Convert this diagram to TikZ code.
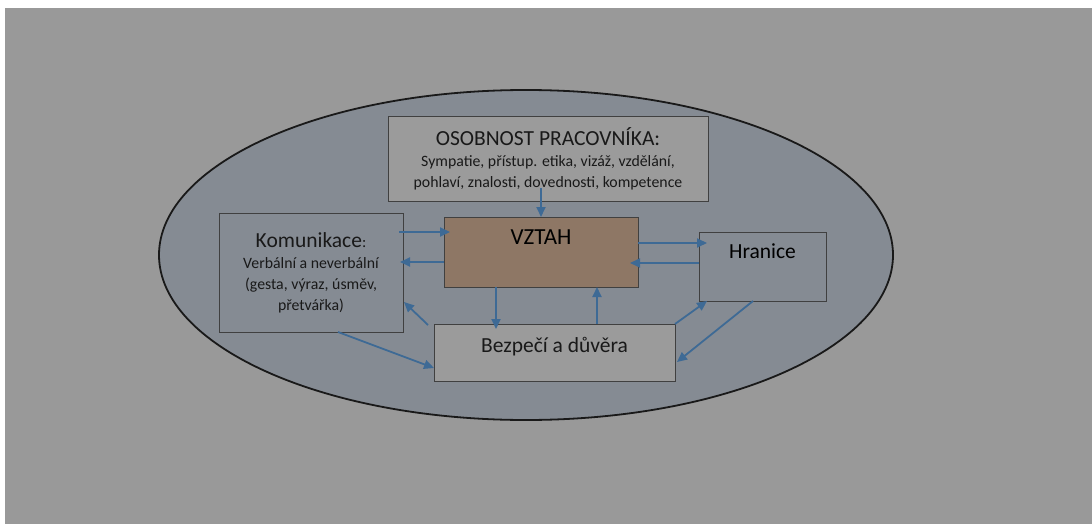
\documentclass[tikz,border=0pt]{standalone}
\usepackage{fontspec}
\setmainfont{Carlito}
\usetikzlibrary{calc,arrows.meta}

\definecolor{pozadi}{HTML}{999999}
\definecolor{okoli}{HTML}{858B93}
\definecolor{hneda}{HTML}{8E7765}
\definecolor{sipka}{HTML}{3E6A95}
\definecolor{svetla}{HTML}{9B9B9B}

\tikzset{
  box/.style={draw=black!75, line width=1pt, anchor=north west, inner sep=2pt,
              outer sep=0pt, align=center, text=black!90},
  arr/.style={-{Triangle[length=10pt,width=9pt]}, draw=sipka, line width=1.8pt},
  big/.style={font=\fontsize{21.5}{25}\selectfont},
  small/.style={font=\fontsize{15.8}{21}\selectfont}
}

\begin{document}
\begin{tikzpicture}[x=1pt,y=-1pt]
      \useasboundingbox (0,0) rectangle (1092,524);
      \fill[white] (0,0) rectangle (1092,524);
      \fill[pozadi] (5,8) rectangle (1092,524);
      % the big oval round everything
      \draw[fill=okoli, line width=1.8pt, draw=black!90] (526,255) ellipse [x radius=367, y radius=165];

      \node[box, fill=svetla, minimum width=320pt, minimum height=84pt, small] (osob) at (388,117)
        {{\fontsize{21.5}{25}\selectfont OSOBNOST PRACOVNÍKA:}\\[0pt]
         Sympatie, přístup. etika, vizáž, vzdělání,\\
         pohlaví, znalosti, dovednosti, kompetence};
      \node[box, fill=okoli, minimum width=184pt, minimum height=119pt, small] (kom) at (219,213)
        {{\fontsize{21.5}{25}\selectfont Komunikace}:\\[0pt]
         Verbální a neverbální\\ (gesta, výraz, úsměv,\\ přetvářka)};
      \node[box, fill=hneda, minimum width=194pt, minimum height=70pt,
            label={[font=\fontsize{23}{26}\selectfont, anchor=north, yshift=-9pt]north:VZTAH}] (vztah) at (444,217) {};
      \node[box, fill=okoli, minimum width=127pt, minimum height=69pt,
            label={[big, anchor=north, yshift=-8pt]north:Hranice}] (hran) at (699,232) {};
      \node[box, fill=svetla, minimum width=241pt, minimum height=57pt, big] (bez) at (434,324)
        {Bezpečí a důvěra\\[-9pt]\mbox{}};

      %\draw[arr] (osob) -- (vztah);
      \draw[arr] ([yshift=13pt]vztah.north |- osob.south) -- (vztah.north);
      \draw[arr] ($(kom.north east)+(-4,19)$) -- ($(vztah.north west)+(6,15)$);
      \draw[arr] ($(vztah.north west)+(0,45)$) -- ($(kom.north east)+(-3,49)$);
      \draw[arr] ($(vztah.north east)+(0,26)$) -- ($(hran.north west)+(8,11)$);
      \draw[arr] ($(hran.north west)+(0,31)$) -- ($(vztah.north east)+(-8,46)$);
      \draw[arr] ($(vztah.south west)+(52,0)$) -- ($(bez.north west)+(62,5)$);
      \draw[arr] ($(bez.north west)+(163,0)$) -- ($(vztah.south west)+(153,0)$);
      \draw[arr] ($(bez.north west)+(-6,1)$) -- ($(kom.south east)+(1,-30)$);
      \draw[arr] ($(kom.south west)+(119,0)$) -- ($(bez.north west)+(0,44)$);
      \draw[arr] (bez.north east) -- ($(hran.south west)+(8,0)$);
      \draw[arr] ($(hran.south west)+(54,0)$) -- ($(bez.north east)+(2,38)$);
  \end{tikzpicture}
\end{document}
